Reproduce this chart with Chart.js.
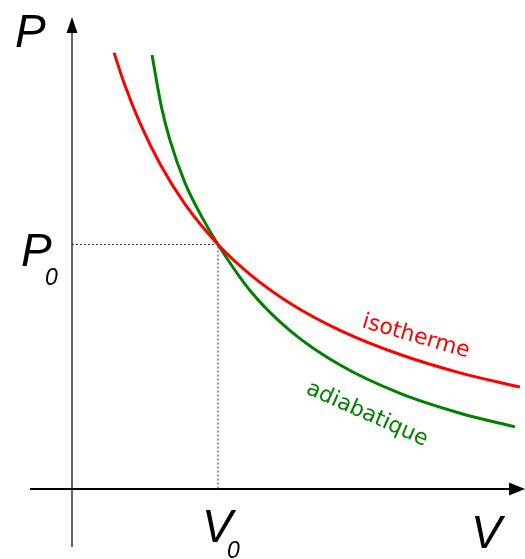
<!DOCTYPE html>
<html><head><meta charset="utf-8">
<script src="https://cdn.jsdelivr.net/npm/chart.js@4.4.1/dist/chart.umd.min.js"></script>
<style>html,body{margin:0;padding:0;background:#fff;overflow:hidden}canvas{display:block}</style>
</head><body>
<canvas id="c" width="525" height="559"></canvas>
<script>
// Data (V0 = 1, P0 = 1 units)
const isothermeV = [0.288, 0.363, 0.466, 0.603, 0.774, 1.0, 1.219, 1.493, 1.836, 2.247, 2.658, 3.068];
const isothermeP = [1.784, 1.650, 1.496, 1.329, 1.165, 1.0, 0.878, 0.760, 0.649, 0.550, 0.475, 0.417];
const adiabatiqueV = [0.548, 0.613, 0.671, 0.774, 0.890, 1.0, 1.219, 1.493, 1.836, 2.247, 2.658, 3.034];
const adiabatiqueP = [1.775, 1.562, 1.427, 1.252, 1.112, 1.0, 0.812, 0.648, 0.507, 0.391, 0.310, 0.254];
const V0 = 1, P0 = 1;
const axisNames = ['V', 'P'];
const refSub = '0';
const curveNames = ['isotherme', 'adiabatique'];

const toPts = (xs, ys) => xs.map((v, i) => ({x: v, y: ys[i]}));

const axesPlugin = {
  id: 'axes',
  beforeDatasetsDraw(chart) {
    const {ctx, scales: {x, y}} = chart;
    const ox = x.getPixelForValue(0), oy = y.getPixelForValue(0);
    const xl = x.getPixelForValue(-0.288), xr = x.getPixelForValue(3.103);
    const yb = y.getPixelForValue(-0.237), yt = y.getPixelForValue(1.93);
    ctx.save();
    ctx.strokeStyle = '#000'; ctx.fillStyle = '#000';
    ctx.lineWidth = 2;
    ctx.beginPath(); ctx.moveTo(xl, oy); ctx.lineTo(xr - 12, oy); ctx.stroke();
    ctx.beginPath(); ctx.moveTo(xr, oy); ctx.lineTo(xr - 16, oy - 6.5); ctx.lineTo(xr - 16, oy + 6.5); ctx.closePath(); ctx.fill();
    ctx.lineWidth = 1.2;
    ctx.beginPath(); ctx.moveTo(ox, yb); ctx.lineTo(ox, yt + 12); ctx.stroke();
    ctx.beginPath(); ctx.moveTo(ox, yt); ctx.lineTo(ox - 5.5, yt + 16); ctx.lineTo(ox + 5.5, yt + 16); ctx.closePath(); ctx.fill();
    ctx.restore();
  },
  afterDraw(chart) {
    const {ctx, scales: {x, y}} = chart;
    const ox = x.getPixelForValue(0), oy = y.getPixelForValue(0);
    const px0 = x.getPixelForValue(V0), py0 = y.getPixelForValue(P0);
    ctx.save();
    ctx.fillStyle = '#000';
    ctx.textBaseline = 'alphabetic';
    ctx.textAlign = 'left';
    const big = 'italic 46px "Liberation Sans"';
    const small = 'italic 23px "Liberation Sans"';
    ctx.font = big; ctx.fillText(axisNames[1], ox - 57, 47);
    ctx.font = big; ctx.fillText(axisNames[1], ox - 51, py0 + 21);
    ctx.font = small; ctx.fillText(refSub, ox - 27, py0 + 40);
    ctx.font = big; ctx.fillText(axisNames[0], px0 - 16, oy + 53);
    ctx.font = small; ctx.fillText(refSub, px0 + 9, oy + 69);
    ctx.font = big; ctx.fillText(axisNames[0], 471, oy + 59);
    ctx.font = '22px "DejaVu Sans"';
    ctx.fillStyle = '#ff0000';
    ctx.save(); ctx.translate(361, 327); ctx.rotate(16 * Math.PI / 180); ctx.fillText(curveNames[0], 0, 0); ctx.restore();
    ctx.fillStyle = '#008000';
    ctx.save(); ctx.translate(305, 393); ctx.rotate(24 * Math.PI / 180); ctx.fillText(curveNames[1], 0, 0); ctx.restore();
    ctx.restore();
  }
};

new Chart(document.getElementById('c'), {
  type: 'scatter',
  data: {
    datasets: [
      {label: curveNames[0], data: toPts(isothermeV, isothermeP), showLine: true, borderColor: '#ff0000', borderWidth: 3, pointRadius: 0, cubicInterpolationMode: 'monotone', fill: false},
      {label: curveNames[1], data: toPts(adiabatiqueV, adiabatiqueP), showLine: true, borderColor: '#008000', borderWidth: 3, pointRadius: 0, cubicInterpolationMode: 'monotone', fill: false},
      {label: 'ref', data: [{x: 0, y: P0}, {x: V0, y: P0}, {x: V0, y: 0}], showLine: true, borderColor: '#333', borderWidth: 1, borderDash: [2, 2], pointRadius: 0, tension: 0, fill: false}
    ]
  },
  options: {
    responsive: false, animation: false, devicePixelRatio: 1,
    layout: {padding: 0},
    plugins: {legend: {display: false}, tooltip: {enabled: false}},
    scales: {
      x: {type: 'linear', display: false, min: -72 / 146, max: 453 / 146},
      y: {type: 'linear', display: false, min: -70 / 244.5, max: 489 / 244.5}
    }
  },
  plugins: [axesPlugin]
});
</script>
</body></html>
